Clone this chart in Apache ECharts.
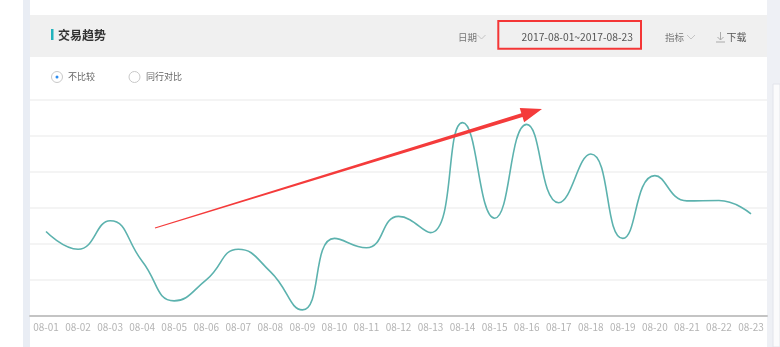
<!DOCTYPE html>
<html>
<head>
<meta charset="utf-8">
<script src="https://cdn.jsdelivr.net/npm/echarts@6/dist/echarts.min.js"></script>
<style>
html,body{margin:0;padding:0;background:#fff;}
#c{width:780px;height:347px;}
</style>
</head>
<body>
<div id="c"></div>
<script>
const categories = ['08-01','08-02','08-03','08-04','08-05','08-06','08-07','08-08','08-09','08-10','08-11','08-12','08-13','08-14','08-15','08-16','08-17','08-18','08-19','08-20','08-21','08-22','08-23'];
const tradeValues = [2.34,1.85,2.64,1.52,0.42,1.0,1.85,1.23,0.17,2.15,1.89,2.76,2.31,5.36,2.71,5.31,3.14,4.49,2.15,3.89,3.19,3.2,2.83];
const titleText = '交易趋势';
const radioLabels = ['不比较','同行对比'];
const dateRange = '2017-08-01~2017-08-23';

const FONT = '"Noto Sans CJK SC", "Liberation Sans", sans-serif';
const chart = echarts.init(document.getElementById('c'));

// tapered annotation arrow
const tail = [155, 228], tip = [542, 109];
const dx = tip[0]-tail[0], dy = tip[1]-tail[1];
const L = Math.sqrt(dx*dx+dy*dy);
const ux = dx/L, uy = dy/L, nx = -uy, ny = ux;
const headLen = 21, headW = 7.5;
const bx = tip[0]-headLen*ux, by = tip[1]-headLen*uy;
const arrowPts = [
  [tail[0]+0.5*nx, tail[1]+0.5*ny],
  [bx+2*nx, by+2*ny],
  [bx+headW*nx, by+headW*ny],
  tip,
  [bx-headW*nx, by-headW*ny],
  [bx-2*nx, by-2*ny],
  [tail[0]-0.5*nx, tail[1]-0.5*ny]
];

chart.setOption({
  animation: false,
  grid: {left: 30, right: 13, top: 99.5, bottom: 31},
  xAxis: {
    type: 'category',
    data: categories,
    boundaryGap: true,
    axisLine: {lineStyle: {color: '#c4c4c4', width: 2}},
    axisTick: {show: false},
    axisLabel: {color: '#b4b4b4', fontSize: 10, margin: 6, fontFamily: FONT, interval: 0}
  },
  yAxis: {
    type: 'value', min: 0, max: 6, interval: 1,
    axisLabel: {show: false},
    axisLine: {show: false},
    axisTick: {show: false},
    splitLine: {lineStyle: {color: '#f1f1f1', width: 1.5}}
  },
  series: [{
    type: 'line',
    data: tradeValues,
    smooth: true,
    symbol: 'none',
    lineStyle: {color: '#5cb2ae', width: 1.6}
  }],
  graphic: [
    {type: 'rect', shape: {x: 23, y: 0, width: 7, height: 347}, style: {fill: '#e9edf4'}, z: -1},
    {type: 'rect', shape: {x: 767, y: 0, width: 13, height: 347}, style: {fill: '#eef0f5'}, z: -1},
    {type: 'rect', shape: {x: 773, y: 84, width: 7, height: 263}, style: {fill: '#fbfbfc', stroke: '#e2e4ea', lineWidth: 1}, z: -1},
    {type: 'rect', shape: {x: 30, y: 15, width: 737, height: 42}, style: {fill: '#f0f0f0'}, z: -1},
    {type: 'rect', shape: {x: 51, y: 29, width: 2.5, height: 11}, style: {fill: '#22b3bd'}},
    {type: 'text', x: 58, y: 35, style: {text: titleText, fill: '#333', font: 'bold 12px ' + FONT, textVerticalAlign: 'middle'}},
    {type: 'circle', shape: {cx: 57, cy: 77, r: 5.5}, style: {fill: '#fff', stroke: '#c8c8c8', lineWidth: 1}},
    {type: 'circle', shape: {cx: 57, cy: 77, r: 1.5}, style: {fill: '#2d8cf0'}},
    {type: 'text', x: 68, y: 77, style: {text: radioLabels[0], fill: '#666', font: '9px ' + FONT, textVerticalAlign: 'middle'}},
    {type: 'circle', shape: {cx: 134.5, cy: 77, r: 5.5}, style: {fill: '#fff', stroke: '#c8c8c8', lineWidth: 1}},
    {type: 'text', x: 146, y: 77, style: {text: radioLabels[1], fill: '#666', font: '9px ' + FONT, textVerticalAlign: 'middle'}},
    {type: 'text', x: 458, y: 37, style: {text: '日期', fill: '#777', font: '9.5px ' + FONT, textVerticalAlign: 'middle'}},
    {type: 'polyline', shape: {points: [[477.5,35],[481.5,39],[485.5,35]]}, style: {stroke: '#c4c4c4', lineWidth: 1, fill: null}},
    {type: 'text', x: 521.5, y: 37, style: {text: dateRange, fill: '#555', font: '10.3px ' + FONT, textVerticalAlign: 'middle'}},
    {type: 'rect', shape: {x: 498.3, y: 21, width: 142.7, height: 27.7}, style: {fill: null, stroke: '#f43636', lineWidth: 2}},
    {type: 'text', x: 665, y: 37, style: {text: '指标', fill: '#777', font: '9.5px ' + FONT, textVerticalAlign: 'middle'}},
    {type: 'polyline', shape: {points: [[687,35],[691,39],[695,35]]}, style: {stroke: '#c4c4c4', lineWidth: 1, fill: null}},
    {type: 'line', shape: {x1: 720.5, y1: 32, x2: 720.5, y2: 40}, style: {stroke: '#aaa', lineWidth: 1}},
    {type: 'polyline', shape: {points: [[717.5,37],[720.5,40],[723.5,37]]}, style: {stroke: '#aaa', lineWidth: 1, fill: null}},
    {type: 'line', shape: {x1: 716, y1: 42, x2: 725, y2: 42}, style: {stroke: '#aaa', lineWidth: 1}},
    {type: 'text', x: 726.5, y: 37, style: {text: '下载', fill: '#555', font: '10px ' + FONT, textVerticalAlign: 'middle'}},
    {type: 'polygon', shape: {points: arrowPts}, style: {fill: '#f43b3b'}, z: 100}
  ]
});
</script>
</body>
</html>
